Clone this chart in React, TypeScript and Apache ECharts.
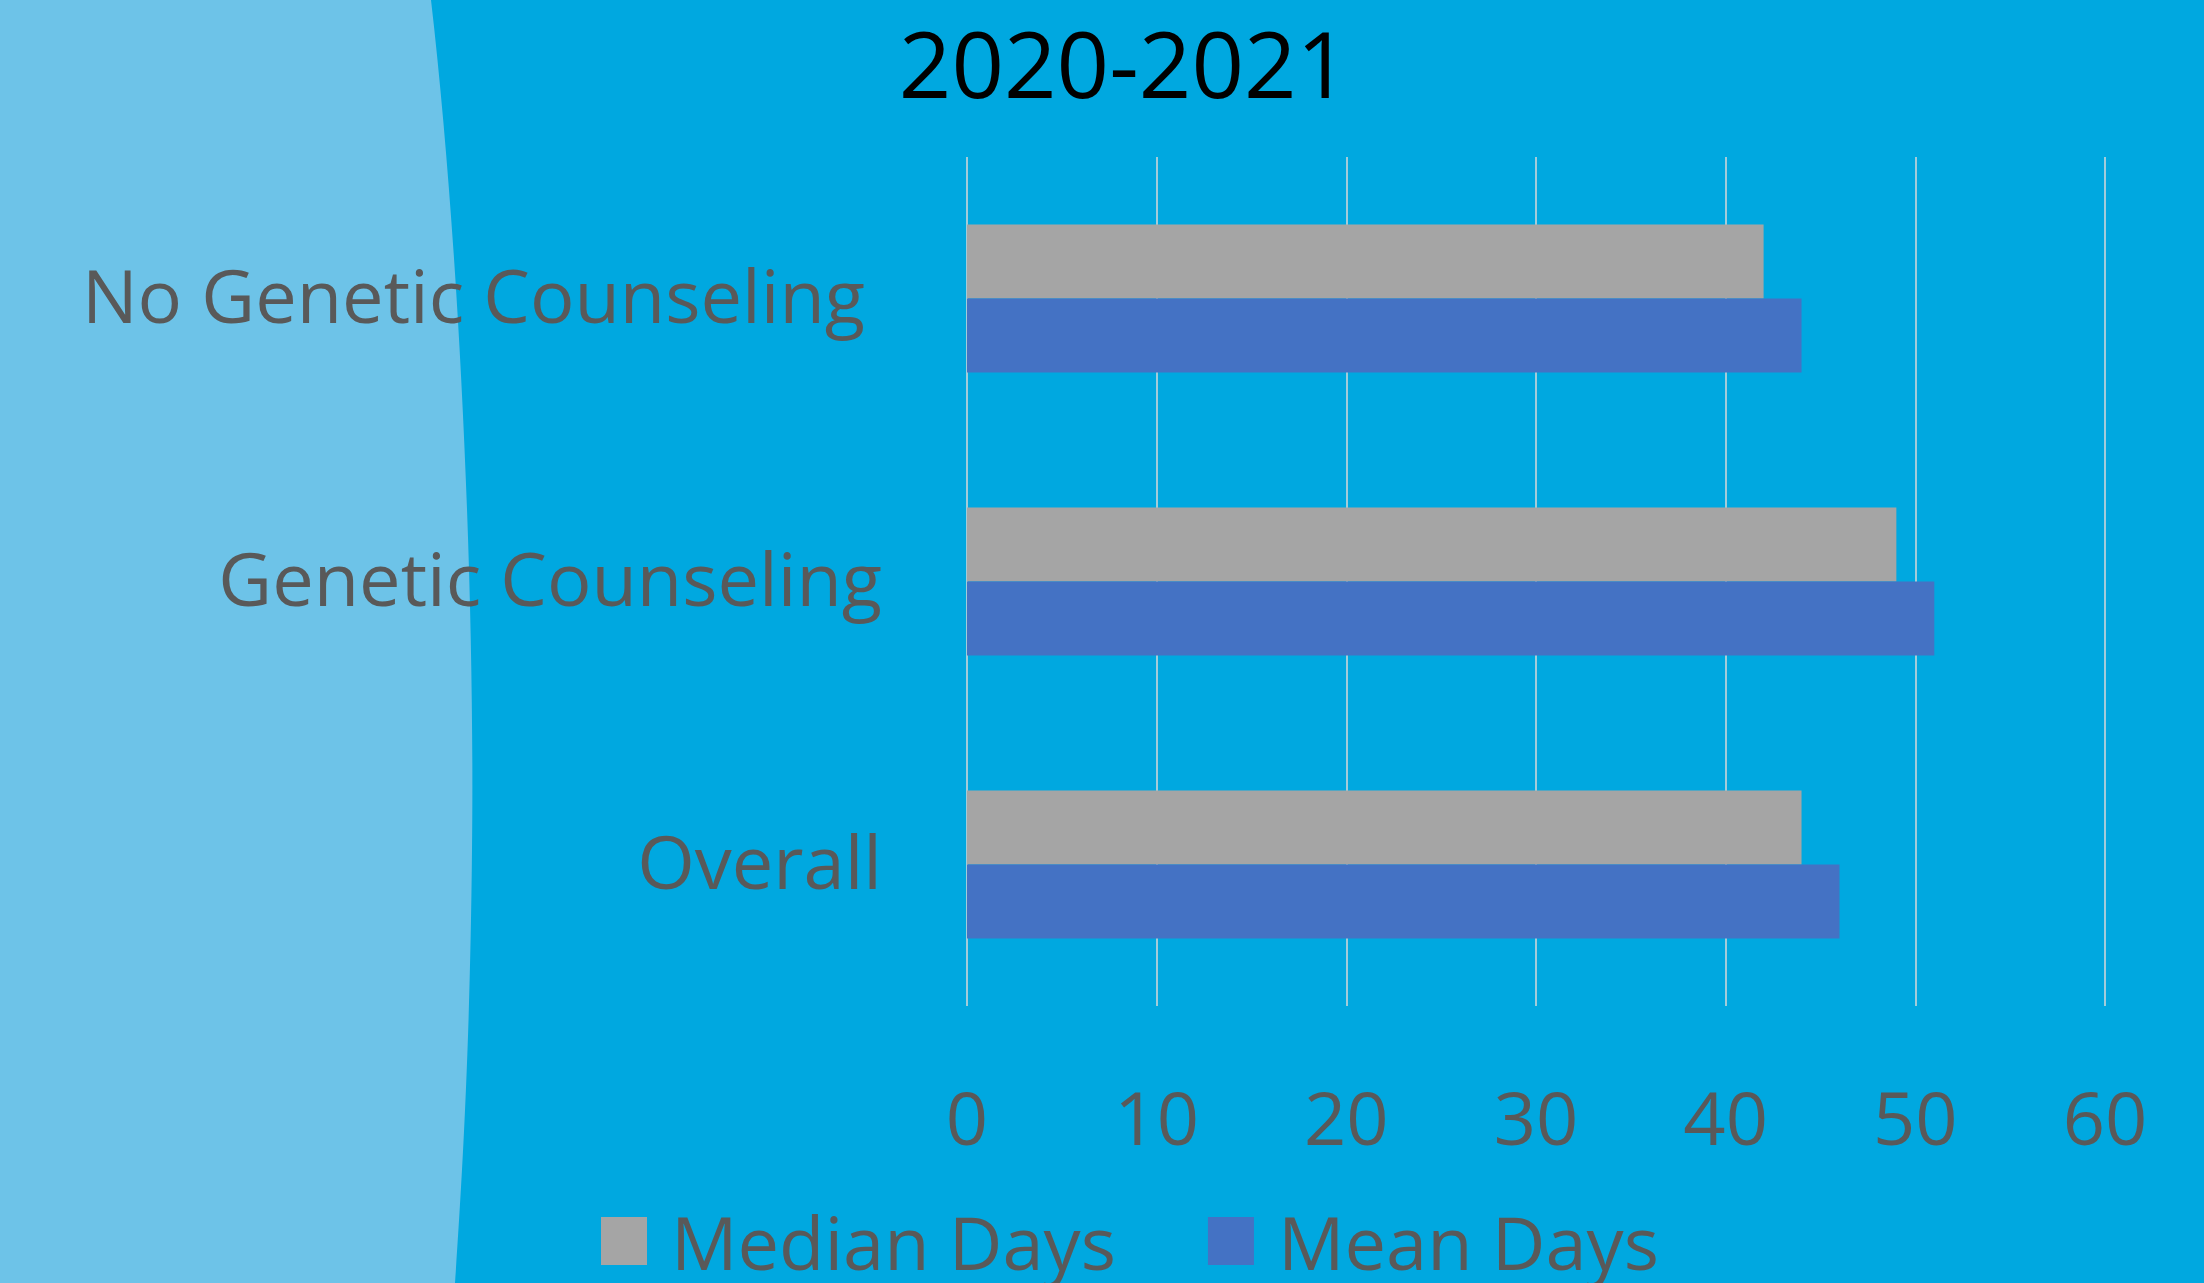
import React, { useEffect, useRef } from "react";
import * as echarts from "echarts";

const titleText = "2020-2021";
const categories = ["No Genetic Counseling", "Genetic Counseling", "Overall"];
const medianDays = [42, 49, 44];
const meanDays = [44, 51, 46];
const seriesNames = ["Median Days", "Mean Days"];
const xTicks = { min: 0, max: 60, interval: 10 };

const FONT = "'Open Sans', 'Noto Sans', sans-serif";
const TEXT = "#595959";

echarts.graphic.registerShape(
  "leftWave",
  echarts.graphic.extendPath(
    "M0 0 L431 0 C460 250 475 600 472 850 C470 1050 462 1180 455 1283 L0 1283 Z",
    {}
  )
);

export default function App() {
  const ref = useRef<HTMLDivElement>(null);
  useEffect(() => {
    if (!ref.current) return;
    const chart = echarts.init(ref.current, null, { renderer: "svg" });
    chart.setOption({
      animation: false,
      backgroundColor: "#00A8E0",
      graphic: [
        {
          type: "leftWave",
          x: 0,
          y: 0,
          z: -10,
          silent: true,
          style: { fill: "#6DC3E8" },
        },
      ],
      title: {
        text: titleText,
        left: 1124,
        top: 16,
        textAlign: "center",
        padding: 0,
        textStyle: {
          fontFamily: FONT,
          fontSize: 92,
          lineHeight: 92,
          fontWeight: "normal",
          color: "#000000",
        },
      },
      legend: {
        data: seriesNames,
        left: 601,
        top: 1204,
        itemWidth: 46,
        itemHeight: 48,
        itemGap: 92,
        padding: 0,
        icon: "rect",
        textStyle: {
          fontFamily: FONT,
          fontSize: 74,
          lineHeight: 74,
          color: TEXT,
          padding: [0, 0, 0, 19],
        },
      },
      grid: { left: 967, right: 99, top: 157, bottom: 277, containLabel: false },
      xAxis: {
        type: "value",
        min: xTicks.min,
        max: xTicks.max,
        interval: xTicks.interval,
        axisLine: { show: false },
        axisTick: { show: false },
        axisLabel: {
          fontFamily: FONT,
          fontSize: 74,
          lineHeight: 74,
          color: TEXT,
          margin: 73,
        },
        splitLine: { show: true, lineStyle: { color: "#D9D9D9", width: 1.5 } },
      },
      yAxis: {
        type: "category",
        data: categories,
        inverse: true,
        axisLine: { show: false },
        axisTick: { show: false },
        axisLabel: {
          fontFamily: FONT,
          fontSize: 74,
          color: TEXT,
          margin: 85,
          padding: [0, 0, 8, 0],
          formatter: (v: string) => (v === categories[0] ? `{a|${v}}` : v),
          rich: {
            a: {
              fontFamily: FONT,
              fontSize: 74,
              color: TEXT,
              padding: [0, 17, 0, 0],
            },
          },
        },
      },
      series: [
        {
          name: seriesNames[0],
          type: "bar",
          data: medianDays,
          barWidth: 74,
          barGap: "0%",
          itemStyle: { color: "#A5A5A5" },
        },
        {
          name: seriesNames[1],
          type: "bar",
          data: meanDays,
          barWidth: 74,
          barGap: "0%",
          itemStyle: { color: "#4472C4" },
        },
      ],
    });
    return () => chart.dispose();
  }, []);
  return (
    <div
      ref={ref}
      style={{ position: "fixed", left: 0, top: 0, width: 2204, height: 1283 }}
    />
  );
}
